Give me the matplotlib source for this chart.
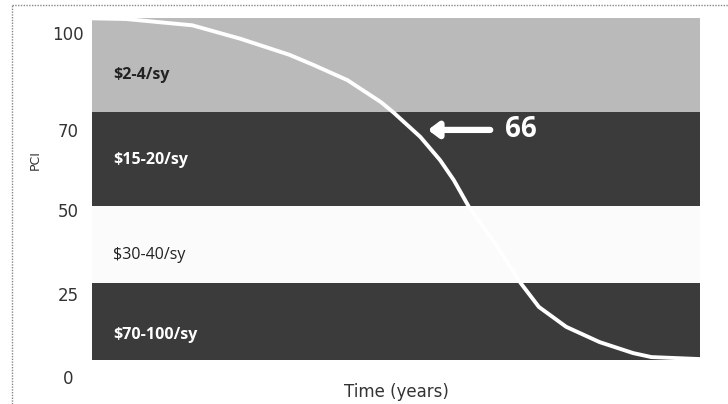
import matplotlib
matplotlib.use("Agg")
import matplotlib.pyplot as plt
from matplotlib.lines import Line2D

# condition bands (bottom -> top) with repair cost per square yard
band_edges = [5.1, 28.3, 51.5, 79.8, 108.1]
band_labels = ["$70-100/sy", "$30-40/sy", "$15-20/sy", "$2-4/sy"]
band_colors = ["#3b3b3b", "#fbfbfb", "#3b3b3b", "#bababa"]
label_colors = ["white", "#222222", "white", "#222222"]
label_weights = ["bold", "normal", "bold", "bold"]

# PCI tick labels and where they sit on the drawn axis
pci_ticks = [0, 25, 50.3, 74.4, 103.6]
pci_labels = ["0", "25", "50", "70", "100"]

# deterioration curve
years = [0.0, 1.1, 3.3, 4.9, 6.5, 7.3, 8.4, 9.5, 9.9, 10.8, 11.45, 11.9,
         12.4, 13.3, 14.1, 14.7, 15.6, 16.7, 17.8, 18.4, 20.0]
pci = [108.0, 107.8, 105.9, 101.8, 97.0, 93.9, 89.4, 82.8, 79.8, 72.3, 65.3,
       59.3, 51.2, 39.7, 28.3, 21.1, 15.1, 10.5, 7.2, 6.0, 5.4]

callout_value = "66"

fig = plt.figure(figsize=(7.28, 4.04), dpi=100)
ax = fig.add_axes([92 / 728, 1 - 377 / 404, 608 / 728, 359 / 404])

for i in range(len(band_labels)):
    ax.axhspan(band_edges[i], band_edges[i + 1], color=band_colors[i], lw=0, zorder=1)

label_y = [12.7, 36.7, 65.4, 91.0]
for i, lab in enumerate(band_labels):
    ax.text(0.7, label_y[i], lab, color=label_colors[i], fontsize=11.5,
            fontweight=label_weights[i], family="Open Sans", ha="left",
            va="center", zorder=3)

ax.plot(years, pci, color="white", lw=2.8, solid_capstyle="round",
        solid_joinstyle="round", zorder=2)

# arrow pointing to the curve
ax.annotate("", xy=(11.05, 74.4), xytext=(13.1, 74.4),
            arrowprops=dict(arrowstyle="-|>,head_length=0.6,head_width=0.45",
                            color="white", lw=4.5, shrinkA=0, shrinkB=0), zorder=4)
ax.text(13.6, 74.6, callout_value, color="white", fontsize=20, fontweight="bold",
        family="Open Sans", ha="left", va="center", zorder=4)

ax.set_xlim(0, 20)
ax.set_ylim(0, 108.1)
ax.set_xticks([])
ax.set_yticks(pci_ticks)
ax.set_yticklabels(pci_labels)
ax.tick_params(axis="y", length=0, pad=17, labelsize=12, labelcolor="#333333")
for t in ax.get_yticklabels():
    t.set_ha("center")
for s in ax.spines.values():
    s.set_visible(False)

ax.set_xlabel("Time (years)", fontsize=12, color="#333333", labelpad=4)
fig.text(35 / 728, 1 - 160 / 404, "PCI", rotation=90, fontsize=9,
         color="#333333", ha="center", va="center")

# dotted frame around the figure (left and top edges)
fig.add_artist(Line2D([12 / 728, 12 / 728], [0, 1 - 5 / 404], transform=fig.transFigure,
                      color="#888888", lw=1, ls=(0, (1, 1))))
fig.add_artist(Line2D([12 / 728, 1], [1 - 5 / 404, 1 - 5 / 404], transform=fig.transFigure,
                      color="#888888", lw=1, ls=(0, (1, 1))))

fig.savefig("out.png", dpi=100)
